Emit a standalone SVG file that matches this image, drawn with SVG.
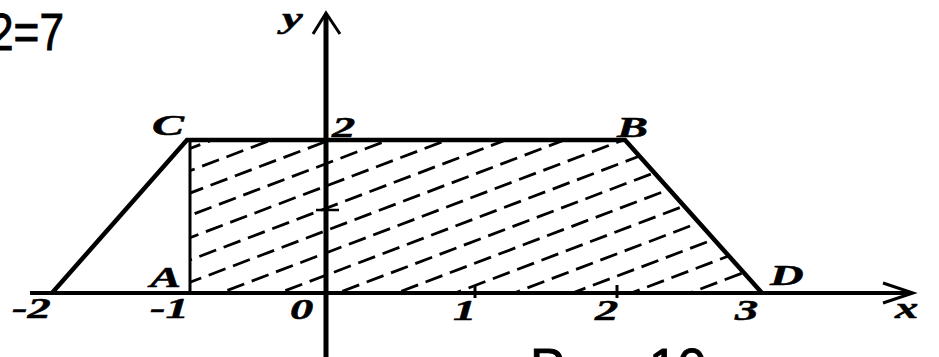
<svg xmlns="http://www.w3.org/2000/svg" width="939" height="357" viewBox="0 0 939 357">
<style>
.ax{stroke:#000;fill:none;stroke-linecap:butt}
.h{stroke:#000;stroke-width:2.8;stroke-dasharray:18 8;fill:none}
.lb{font-family:"Liberation Serif","Times New Roman",serif;font-weight:bold;font-style:italic;font-size:30px;fill:#000;stroke:#000;stroke-width:0.5}
.tx{font-family:"Liberation Sans",Arial,sans-serif;font-size:52px;fill:#000;stroke:#000;stroke-width:0.9}
</style>
<defs>
<clipPath id="trap"><polygon points="190,293 190,140 625,140 762,293"/></clipPath>
</defs>
<rect width="939" height="357" fill="#fff"/>
<text class="tx" text-anchor="end" transform="translate(64,50) scale(0.85,1)">2=7</text>
<text class="tx" transform="translate(530,385)">Рис. 10</text>
<g id="hatch" clip-path="url(#trap)">
<line class="h" x1="190" y1="483" x2="762" y2="265.64"/>
<line class="h" x1="190" y1="460.7" x2="762" y2="243.34" stroke-dashoffset="5"/>
<line class="h" x1="190" y1="438.4" x2="762" y2="221.04" stroke-dashoffset="11"/>
<line class="h" x1="190" y1="416.1" x2="762" y2="198.74" stroke-dashoffset="3"/>
<line class="h" x1="190" y1="393.8" x2="762" y2="176.44" stroke-dashoffset="14"/>
<line class="h" x1="190" y1="371.5" x2="762" y2="154.14" stroke-dashoffset="8"/>
<line class="h" x1="190" y1="349.2" x2="762" y2="131.84" stroke-dashoffset="19"/>
<line class="h" x1="190" y1="326.9" x2="762" y2="109.54" stroke-dashoffset="2"/>
<line class="h" x1="190" y1="304.6" x2="762" y2="87.24" stroke-dashoffset="12"/>
<line class="h" x1="190" y1="282.3" x2="762" y2="64.94" stroke-dashoffset="6"/>
<line class="h" x1="190" y1="260" x2="762" y2="42.64" stroke-dashoffset="16"/>
<line class="h" x1="190" y1="237.7" x2="762" y2="20.34" stroke-dashoffset="9"/>
<line class="h" x1="190" y1="215.4" x2="762" y2="-1.96" stroke-dashoffset="21"/>
<line class="h" x1="190" y1="193.1" x2="762" y2="-24.26" stroke-dashoffset="4"/>
<line class="h" x1="190" y1="170.8" x2="762" y2="-46.56" stroke-dashoffset="13"/>
<line class="h" x1="190" y1="148.5" x2="762" y2="-68.86" stroke-dashoffset="7"/>
</g>
<g id="axes">
<line class="ax" x1="30" y1="293" x2="912" y2="293" stroke-width="4"/>
<polyline class="ax" points="883,283 913,293 883,303" stroke-width="3"/>
<line class="ax" x1="326" y1="357" x2="326" y2="15" stroke-width="5"/>
<polyline class="ax" points="313,34 326,13 340,34" stroke-width="3"/>
<line class="ax" x1="475" y1="285" x2="475" y2="298" stroke-width="3"/>
<line class="ax" x1="617" y1="285" x2="617" y2="298" stroke-width="3"/>
<line class="ax" x1="316" y1="210" x2="339" y2="210" stroke-width="2.5"/>
</g>
<g id="trapezoid">
<polyline class="ax" points="52,293 187,140 625,140 762,293" stroke-width="4.5" stroke-linejoin="miter"/>
<line class="ax" x1="190" y1="140" x2="190" y2="293" stroke-width="3"/>
</g>
<g id="labels">
<text class="lb" transform="translate(152,135) scale(1.6,1)">C</text>
<text class="lb" transform="translate(332,137) scale(1.55,1)">2</text>
<text class="lb" transform="translate(617,137) scale(1.55,1)">B</text>
<text class="lb" transform="translate(770,285) scale(1.55,1)">D</text>
<text class="lb" transform="translate(150,287) scale(1.55,1)">A</text>
<text class="lb" transform="translate(282,28) scale(1.55,1)">y</text>
<text class="lb" transform="translate(12,318) scale(1.55,1)">-2</text>
<text class="lb" transform="translate(150,318) scale(1.55,1)">-1</text>
<text class="lb" transform="translate(290,319) scale(1.55,1)">0</text>
<text class="lb" transform="translate(453,320) scale(1.55,1)">1</text>
<text class="lb" transform="translate(595,320) scale(1.55,1)">2</text>
<text class="lb" transform="translate(735,320) scale(1.55,1)">3</text>
<text class="lb" transform="translate(895,318) scale(1.55,1)">x</text>
</g>
</svg>
